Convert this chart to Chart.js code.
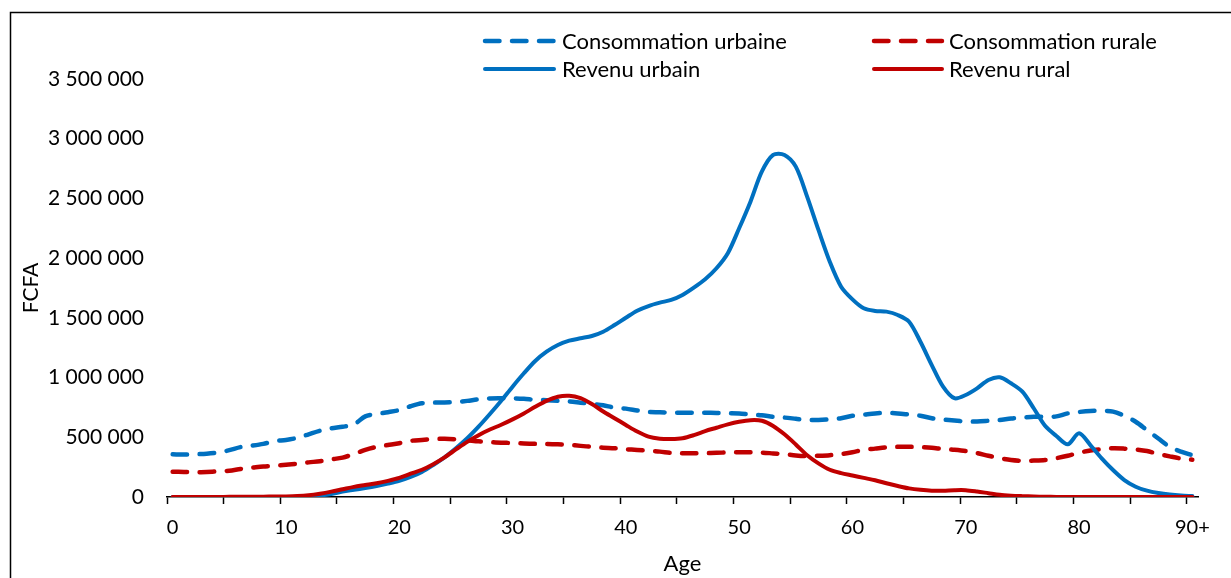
<!DOCTYPE html>
<html>
<head>
<meta charset="utf-8">
<script src="https://cdn.jsdelivr.net/npm/chart.js@4.4.1/dist/chart.umd.min.js"></script>
<style>
  html, body { margin: 0; padding: 0; background: #fff; }
  canvas { display: block; }
</style>
</head>
<body>
<canvas id="c" width="1231" height="578"></canvas>
<script>
// Age categories 0 .. 90+
const ages = [];
for (let a = 0; a <= 89; a++) ages.push(String(a));
ages.push('90+');

// Values in FCFA
const consommationUrbaine = [
  358000, 355000, 358000, 362000, 372000, 392000, 418000, 430000, 445000, 468000,
  478000, 495000, 525000, 555000, 575000, 588000, 608000, 675000, 695000, 710000,
  728000, 760000, 785000, 790000, 792000, 795000, 805000, 818000, 825000, 826000,
  826000, 822000, 814000, 810000, 805000, 800000, 790000, 780000, 768000, 748000,
  740000, 725000, 712000, 710000, 706000, 706000, 706000, 706000, 704000, 702000,
  700000, 690000, 684000, 672000, 665000, 655000, 645000, 645000, 650000, 660000,
  680000, 690000, 700000, 705000, 700000, 690000, 680000, 660000, 648000, 640000,
  632000, 632000, 638000, 645000, 658000, 665000, 672000, 672000, 675000, 700000,
  712000, 720000, 722000, 715000, 680000, 630000, 560000, 490000, 420000, 380000,
  350000
];
const consommationRurale = [
  212000, 210000, 207000, 210000, 215000, 220000, 235000, 245000, 255000, 262000,
  270000, 278000, 290000, 300000, 315000, 330000, 360000, 395000, 420000, 435000,
  450000, 470000, 478000, 485000, 487000, 483000, 475000, 466000, 460000, 455000,
  452000, 448000, 445000, 443000, 441000, 437000, 428000, 420000, 413000, 408000,
  400000, 394000, 387000, 380000, 370000, 366000, 366000, 367000, 370000, 373000,
  375000, 374000, 372000, 365000, 358000, 348000, 342000, 345000, 350000, 360000,
  375000, 395000, 405000, 415000, 420000, 420000, 418000, 412000, 402000, 395000,
  385000, 368000, 345000, 325000, 310000, 303000, 305000, 310000, 325000, 345000,
  370000, 390000, 400000, 408000, 405000, 398000, 385000, 360000, 340000, 322000,
  312000
];
const revenuUrbain = [
  0, 0, 0, 0, 0, 0, 0, 0, 0, 0,
  0, 0, 3000, 12000, 25000, 45000, 60000, 75000, 92000, 112000,
  135000, 168000, 210000, 268000, 332000, 408000, 492000, 589000, 695000, 806000,
  924000, 1036000, 1139000, 1217000, 1273000, 1309000, 1329000, 1348000, 1384000, 1440000,
  1501000, 1560000, 1599000, 1627000, 1650000, 1692000, 1753000, 1823000, 1915000, 2041000,
  2250000, 2473000, 2724000, 2864000, 2864000, 2766000, 2515000, 2236000, 1970000, 1761000,
  1655000, 1580000, 1558000, 1552000, 1524000, 1468000, 1300000, 1105000, 924000, 827000,
  854000, 910000, 980000, 1002000, 952000, 882000, 743000, 596000, 511000, 441000,
  533000, 435000, 324000, 226000, 142000, 86000, 53000, 33000, 20000, 12000,
  8000
];
const revenuRural = [
  0, 0, 0, 0, 0, 2000, 3000, 3000, 3000, 4000,
  5000, 8000, 15000, 28000, 45000, 65000, 85000, 100000, 115000, 135000,
  160000, 195000, 228000, 275000, 332000, 398000, 462000, 518000, 565000, 605000,
  650000, 700000, 755000, 805000, 840000, 848000, 827000, 778000, 716000, 660000,
  603000, 548000, 505000, 488000, 485000, 492000, 518000, 552000, 580000, 608000,
  630000, 643000, 638000, 595000, 525000, 440000, 350000, 282000, 228000, 200000,
  180000, 160000, 140000, 115000, 92000, 72000, 60000, 53000, 53000, 57000,
  57000, 46000, 32000, 18000, 11000, 7000, 4000, 2000, 1000, 0,
  0, 0, 0, 0, 0, 0, 0, 0, 0, 0,
  0
];

const seriesLabels = ['Consommation urbaine', 'Consommation rurale', 'Revenu urbain', 'Revenu rural'];
const yTicks = [0, 500000, 1000000, 1500000, 2000000, 2500000, 3000000, 3500000];

const BLUE = '#0070C0';
const RED = '#C00000';
const FONT = 'Lato';
const DASH = [14.5, 12.5];

function fmt(v) {
  return String(v).replace(/\B(?=(\d{3})+(?!\d))/g, ' ');
}

const frameAndLegend = {
  id: 'frameAndLegend',
  afterDraw(chart) {
    const ctx = chart.ctx;
    ctx.save();
    // outer frame
    ctx.strokeStyle = '#000';
    ctx.lineWidth = 1.5;
    ctx.strokeRect(10.5, 12.5, 1400, 800);
    // legend (2 x 2)
    const items = [
      { ds: 0, x1: 485, x2: 554, tx: 562, y: 41 },
      { ds: 1, x1: 874, x2: 942, tx: 949, y: 41 },
      { ds: 2, x1: 485, x2: 554, tx: 562, y: 69 },
      { ds: 3, x1: 874, x2: 942, tx: 949, y: 69 }
    ];
    ctx.font = '22px ' + FONT;
    ctx.textBaseline = 'middle';
    ctx.textAlign = 'left';
    items.forEach(it => {
      const d = chart.data.datasets[it.ds];
      ctx.beginPath();
      ctx.setLineDash(d.borderDash || []);
      ctx.lineCap = 'round';
      ctx.lineWidth = d.borderWidth;
      ctx.strokeStyle = d.borderColor;
      ctx.moveTo(it.x1, it.y);
      ctx.lineTo(it.x2, it.y);
      ctx.stroke();
      ctx.setLineDash([]);
      ctx.fillStyle = '#000';
      ctx.fillText(d.label, it.tx, it.y + 1);
    });
    ctx.restore();
  }
};

new Chart(document.getElementById('c'), {
  type: 'line',
  data: {
    labels: ages,
    datasets: [
      { label: seriesLabels[0], data: consommationUrbaine, borderColor: BLUE, borderWidth: 4.5, borderDash: DASH, borderCapStyle: 'round', order: 4 },
      { label: seriesLabels[1], data: consommationRurale, borderColor: RED, borderWidth: 4.5, borderDash: DASH, borderCapStyle: 'round', order: 3 },
      { label: seriesLabels[2], data: revenuUrbain, borderColor: BLUE, borderWidth: 4, borderCapStyle: 'round', order: 2 },
      { label: seriesLabels[3], data: revenuRural, borderColor: RED, borderWidth: 4, borderCapStyle: 'round', order: 1 }
    ]
  },
  options: {
    responsive: false,
    devicePixelRatio: 1,
    animation: false,
    layout: { padding: { top: 79, right: 33, left: 10, bottom: 0 } },
    elements: {
      point: { radius: 0, hoverRadius: 0 },
      line: { tension: 0.3, fill: false, borderJoinStyle: 'round' }
    },
    plugins: {
      legend: { display: false },
      tooltip: { enabled: false }
    },
    scales: {
      x: {
        type: 'category',
        offset: true,
        afterFit(scale) { scale.height = 81; },
        grid: {
          display: true,
          offset: true,
          drawOnChartArea: false,
          drawTicks: true,
          tickLength: 7,
          tickWidth: 1.5,
          tickColor: (c) => (c.index % 5 === 0 && c.index <= 90) ? '#000' : 'rgba(0,0,0,0)'
        },
        border: { display: true, color: '#000', width: 1.5 },
        ticks: {
          autoSkip: false,
          maxRotation: 0,
          minRotation: 0,
          padding: 12,
          color: '#000',
          font: { family: FONT, size: 20 },
          callback: function (value, index) { return index % 10 === 0 ? this.getLabelForValue(value) : ''; }
        },
        title: {
          display: true,
          text: 'Age',
          color: '#000',
          font: { family: FONT, size: 22 },
          padding: { top: 0, bottom: 1 }
        }
      },
      y: {
        min: 0,
        max: 3500000,
        afterFit(scale) { scale.width = 157; },
        afterBuildTicks(scale) { scale.ticks = yTicks.map(v => ({ value: v })); },
        grid: { display: false, drawTicks: false },
        border: { display: false },
        ticks: {
          padding: 23,
          color: '#000',
          font: { family: FONT, size: 21 },
          callback: (v) => fmt(v)
        },
        title: {
          display: true,
          text: 'FCFA',
          color: '#000',
          font: { family: FONT, size: 21 },
          padding: { top: 9, bottom: 0 }
        }
      }
    }
  },
  plugins: [frameAndLegend]
});
</script>
</body>
</html>
